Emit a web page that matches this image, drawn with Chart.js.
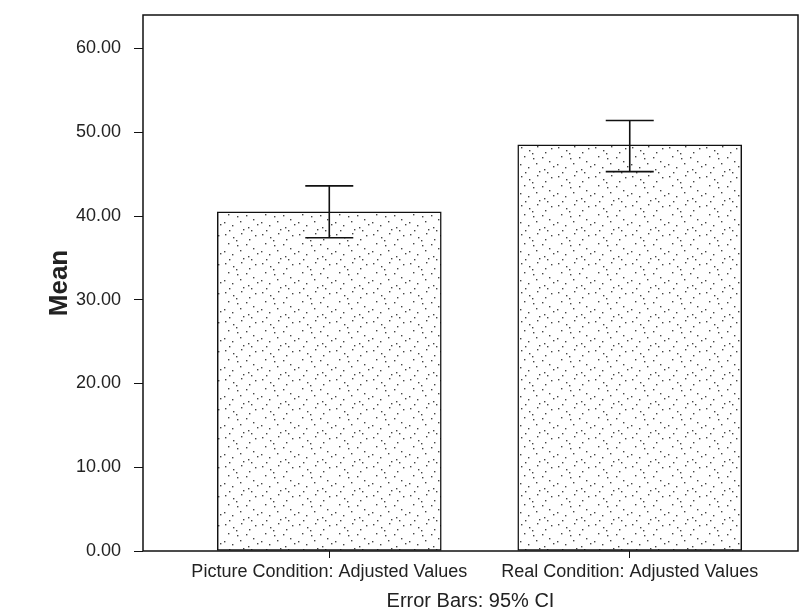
<!DOCTYPE html>
<html>
<head>
<meta charset="utf-8">
<script src="https://cdn.jsdelivr.net/npm/chart.js@4/dist/chart.umd.min.js"></script>
<style>
  html, body { margin: 0; padding: 0; background: #fff; }
  #wrap { width: 800px; height: 615px; position: relative; }
</style>
</head>
<body>
<div id="wrap"><canvas id="meanChart"></canvas></div>
<script>
// data
const categories = ['Picture Condition: Adjusted Values', 'Real Condition: Adjusted Values'];
const positions = [1, 2];
const means = [40.5, 48.5];
const ciLow = [37.4, 45.3];
const ciHigh = [43.6, 51.4];
const yTicks = [0, 10, 20, 30, 40, 50, 60];

// speckled fill like the printed bars
function makeSpeckle() {
    const c = document.createElement('canvas');
    c.width = 37; c.height = 29;
    const g = c.getContext('2d');
    g.fillStyle = '#fff';
    g.fillRect(0, 0, c.width, c.height);
    g.fillStyle = '#444';
    const dots = [[3,2],[11,5],[19,1],[27,7],[33,3],[6,11],[15,13],[24,12],[31,16],
                  [2,19],[10,22],[18,18],[26,24],[35,21],[7,27],[21,26],[14,8],[29,27]];
    dots.forEach(d => g.fillRect(d[0], d[1], 1.4, 1.4));
    return g.createPattern(c, 'repeat');
}

// khung bao quanh vùng vẽ
const framePlugin = {
    id: 'frame',
    afterDraw(chart) {
        const a = chart.chartArea, ctx = chart.ctx;
        ctx.save();
        ctx.strokeStyle = '#111';
        ctx.lineWidth = 1.5;
        ctx.strokeRect(a.left, a.top, a.right - a.left, a.bottom - a.top);
        ctx.restore();
    }
};

// error bars 95% CI
const errorBarPlugin = {
    id: 'errorBars',
    afterDatasetsDraw(chart) {
        const xs = chart.scales.x, ys = chart.scales.y, ctx = chart.ctx;
        ctx.save();
        ctx.strokeStyle = '#111';
        ctx.lineWidth = 1.6;
        for (let i = 0; i < positions.length; i++) {
            const x = xs.getPixelForValue(positions[i]);
            const yl = ys.getPixelForValue(ciLow[i]);
            const yh = ys.getPixelForValue(ciHigh[i]);
            ctx.beginPath();
            ctx.moveTo(x, yl); ctx.lineTo(x, yh);
            ctx.moveTo(x - 24, yh); ctx.lineTo(x + 24, yh);
            ctx.moveTo(x - 24, yl); ctx.lineTo(x + 24, yl);
            ctx.stroke();
        }
        ctx.restore();
    }
};

const family = '"Liberation Sans", Arial, sans-serif';

new Chart(document.getElementById('meanChart'), {
    type: 'bar',
    data: {
        datasets: [{
            data: positions.map((p, i) => ({ x: p, y: means[i] })),
            backgroundColor: makeSpeckle(),
            borderColor: '#111',
            borderWidth: 1.5,
            borderSkipped: false,
            barThickness: 224
        }]
    },
    options: {
        responsive: true,
        maintainAspectRatio: false,
        animation: false,
        layout: { padding: { top: 15, right: 2, left: 44, bottom: 0 } },
        plugins: {
            legend: { display: false },
            tooltip: { enabled: false }
        },
        scales: {
            x: {
                type: 'linear',
                offset: false,
                min: 0.38,
                max: 2.56,
                afterBuildTicks: s => { s.ticks = positions.map(v => ({ value: v })); },
                afterFit: s => { s.height = 64; },
                grid: { display: true, offset: false, drawOnChartArea: false, tickLength: 7, color: '#111' },
                border: { display: false },
                ticks: {
                    autoSkip: false,
                    maxRotation: 0,
                    padding: 3,
                    color: '#222',
                    font: { family: family, size: 18 },
                    callback: v => categories[positions.indexOf(v)] || ''
                },
                title: {
                    display: true,
                    text: 'Error Bars: 95% CI',
                    color: '#222',
                    font: { family: family, size: 20 },
                    padding: { top: 1, bottom: 2 }
                }
            },
            y: {
                min: 0,
                max: 64,
                afterBuildTicks: s => { s.ticks = yTicks.map(v => ({ value: v })); },
                afterFit: s => { s.width = 99; s.paddingTop = 0; },
                grid: { display: true, drawOnChartArea: false, tickLength: 9, color: '#111' },
                border: { display: false },
                ticks: {
                    padding: 13,
                    color: '#222',
                    font: { family: family, size: 18 },
                    callback: v => Number(v).toFixed(2)
                },
                title: {
                    display: true,
                    text: 'Mean',
                    color: '#222',
                    font: { family: family, size: 26, weight: 'bold' },
                    padding: { top: 0, bottom: 0 }
                }
            }
        }
    },
    plugins: [framePlugin, errorBarPlugin]
});
</script>
</body>
</html>
